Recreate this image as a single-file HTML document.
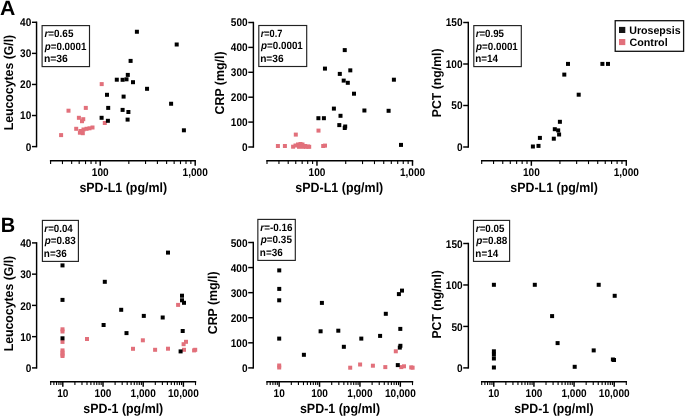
<!DOCTYPE html>
<html><head><meta charset="utf-8"><style>
html,body{margin:0;padding:0;background:#fff;width:685px;height:416px;overflow:hidden}
svg{display:block;will-change:transform}
</style></head><body>
<svg width="685" height="416" viewBox="0 0 685 416" font-family="&apos;Liberation Sans&apos;, sans-serif" font-weight="bold" fill="#000" style="text-rendering:geometricPrecision">
<rect width="685" height="416" fill="#fff"/>
<text x="0.12" y="15" font-size="20.8" textLength="15.34" lengthAdjust="spacingAndGlyphs">A</text>
<text x="0.66" y="231.7" font-size="20.8" textLength="14.45" lengthAdjust="spacingAndGlyphs">B</text>
<line x1="36.55" y1="21.57" x2="36.55" y2="147.32" stroke="#000" stroke-width="1.45"/>
<line x1="31.95" y1="146.6" x2="36.55" y2="146.6" stroke="#000" stroke-width="1.45"/>
<text transform="translate(31.3 150.5) scale(0.9 1)" font-size="11.2" text-anchor="end">0</text>
<line x1="31.95" y1="115.52" x2="36.55" y2="115.52" stroke="#000" stroke-width="1.45"/>
<text transform="translate(31.3 119.42) scale(0.9 1)" font-size="11.2" text-anchor="end">10</text>
<line x1="31.95" y1="84.45" x2="36.55" y2="84.45" stroke="#000" stroke-width="1.45"/>
<text transform="translate(31.3 88.35) scale(0.9 1)" font-size="11.2" text-anchor="end">20</text>
<line x1="31.95" y1="53.38" x2="36.55" y2="53.38" stroke="#000" stroke-width="1.45"/>
<text transform="translate(31.3 57.27) scale(0.9 1)" font-size="11.2" text-anchor="end">30</text>
<line x1="31.95" y1="22.3" x2="36.55" y2="22.3" stroke="#000" stroke-width="1.45"/>
<text transform="translate(31.3 26.2) scale(0.9 1)" font-size="11.2" text-anchor="end">40</text>
<line x1="253.4" y1="21.77" x2="253.4" y2="147.72" stroke="#000" stroke-width="1.45"/>
<line x1="248.3" y1="147" x2="253.4" y2="147" stroke="#000" stroke-width="1.45"/>
<text transform="translate(247.65 150.9) scale(0.9 1)" font-size="11.2" text-anchor="end">0</text>
<line x1="248.3" y1="122.1" x2="253.4" y2="122.1" stroke="#000" stroke-width="1.45"/>
<text transform="translate(247.65 126) scale(0.9 1)" font-size="11.2" text-anchor="end">100</text>
<line x1="248.3" y1="97.2" x2="253.4" y2="97.2" stroke="#000" stroke-width="1.45"/>
<text transform="translate(247.65 101.1) scale(0.9 1)" font-size="11.2" text-anchor="end">200</text>
<line x1="248.3" y1="72.3" x2="253.4" y2="72.3" stroke="#000" stroke-width="1.45"/>
<text transform="translate(247.65 76.2) scale(0.9 1)" font-size="11.2" text-anchor="end">300</text>
<line x1="248.3" y1="47.4" x2="253.4" y2="47.4" stroke="#000" stroke-width="1.45"/>
<text transform="translate(247.65 51.3) scale(0.9 1)" font-size="11.2" text-anchor="end">400</text>
<line x1="248.3" y1="22.5" x2="253.4" y2="22.5" stroke="#000" stroke-width="1.45"/>
<text transform="translate(247.65 26.4) scale(0.9 1)" font-size="11.2" text-anchor="end">500</text>
<line x1="468.3" y1="21.77" x2="468.3" y2="147.72" stroke="#000" stroke-width="1.45"/>
<line x1="463.2" y1="147" x2="468.3" y2="147" stroke="#000" stroke-width="1.45"/>
<text transform="translate(462.55 150.9) scale(0.9 1)" font-size="11.2" text-anchor="end">0</text>
<line x1="463.2" y1="105.5" x2="468.3" y2="105.5" stroke="#000" stroke-width="1.45"/>
<text transform="translate(462.55 109.4) scale(0.9 1)" font-size="11.2" text-anchor="end">50</text>
<line x1="463.2" y1="64" x2="468.3" y2="64" stroke="#000" stroke-width="1.45"/>
<text transform="translate(462.55 67.9) scale(0.9 1)" font-size="11.2" text-anchor="end">100</text>
<line x1="463.2" y1="22.5" x2="468.3" y2="22.5" stroke="#000" stroke-width="1.45"/>
<text transform="translate(462.55 26.4) scale(0.9 1)" font-size="11.2" text-anchor="end">150</text>
<line x1="49.88" y1="160.8" x2="195.92" y2="160.8" stroke="#000" stroke-width="1.45"/>
<line x1="50.6" y1="160.8" x2="50.6" y2="164.1" stroke="#000" stroke-width="1.1"/>
<line x1="62.46" y1="160.8" x2="62.46" y2="164.1" stroke="#000" stroke-width="1.1"/>
<line x1="71.66" y1="160.8" x2="71.66" y2="164.1" stroke="#000" stroke-width="1.1"/>
<line x1="79.18" y1="160.8" x2="79.18" y2="164.1" stroke="#000" stroke-width="1.1"/>
<line x1="85.54" y1="160.8" x2="85.54" y2="164.1" stroke="#000" stroke-width="1.1"/>
<line x1="91.05" y1="160.8" x2="91.05" y2="164.1" stroke="#000" stroke-width="1.1"/>
<line x1="95.9" y1="160.8" x2="95.9" y2="164.1" stroke="#000" stroke-width="1.1"/>
<line x1="100.25" y1="160.8" x2="100.25" y2="165.8" stroke="#000" stroke-width="1.45"/>
<line x1="128.83" y1="160.8" x2="128.83" y2="164.1" stroke="#000" stroke-width="1.1"/>
<line x1="145.55" y1="160.8" x2="145.55" y2="164.1" stroke="#000" stroke-width="1.1"/>
<line x1="157.41" y1="160.8" x2="157.41" y2="164.1" stroke="#000" stroke-width="1.1"/>
<line x1="166.62" y1="160.8" x2="166.62" y2="164.1" stroke="#000" stroke-width="1.1"/>
<line x1="174.14" y1="160.8" x2="174.14" y2="164.1" stroke="#000" stroke-width="1.1"/>
<line x1="180.49" y1="160.8" x2="180.49" y2="164.1" stroke="#000" stroke-width="1.1"/>
<line x1="186" y1="160.8" x2="186" y2="164.1" stroke="#000" stroke-width="1.1"/>
<line x1="190.86" y1="160.8" x2="190.86" y2="164.1" stroke="#000" stroke-width="1.1"/>
<line x1="195.2" y1="160.8" x2="195.2" y2="165.8" stroke="#000" stroke-width="1.45"/>
<text transform="translate(100.25 175.8) scale(0.9 1)" font-size="11.2" text-anchor="middle">100</text>
<text transform="translate(195.2 175.8) scale(0.9 1)" font-size="11.2" text-anchor="middle">1,000</text>
<line x1="266.27" y1="160.8" x2="413.23" y2="160.8" stroke="#000" stroke-width="1.45"/>
<line x1="267" y1="160.8" x2="267" y2="164.1" stroke="#000" stroke-width="1.1"/>
<line x1="278.94" y1="160.8" x2="278.94" y2="164.1" stroke="#000" stroke-width="1.1"/>
<line x1="288.2" y1="160.8" x2="288.2" y2="164.1" stroke="#000" stroke-width="1.1"/>
<line x1="295.76" y1="160.8" x2="295.76" y2="164.1" stroke="#000" stroke-width="1.1"/>
<line x1="302.16" y1="160.8" x2="302.16" y2="164.1" stroke="#000" stroke-width="1.1"/>
<line x1="307.7" y1="160.8" x2="307.7" y2="164.1" stroke="#000" stroke-width="1.1"/>
<line x1="312.59" y1="160.8" x2="312.59" y2="164.1" stroke="#000" stroke-width="1.1"/>
<line x1="316.96" y1="160.8" x2="316.96" y2="165.8" stroke="#000" stroke-width="1.45"/>
<line x1="345.72" y1="160.8" x2="345.72" y2="164.1" stroke="#000" stroke-width="1.1"/>
<line x1="362.54" y1="160.8" x2="362.54" y2="164.1" stroke="#000" stroke-width="1.1"/>
<line x1="374.48" y1="160.8" x2="374.48" y2="164.1" stroke="#000" stroke-width="1.1"/>
<line x1="383.74" y1="160.8" x2="383.74" y2="164.1" stroke="#000" stroke-width="1.1"/>
<line x1="391.3" y1="160.8" x2="391.3" y2="164.1" stroke="#000" stroke-width="1.1"/>
<line x1="397.7" y1="160.8" x2="397.7" y2="164.1" stroke="#000" stroke-width="1.1"/>
<line x1="403.24" y1="160.8" x2="403.24" y2="164.1" stroke="#000" stroke-width="1.1"/>
<line x1="408.13" y1="160.8" x2="408.13" y2="164.1" stroke="#000" stroke-width="1.1"/>
<line x1="412.5" y1="160.8" x2="412.5" y2="165.8" stroke="#000" stroke-width="1.45"/>
<text transform="translate(316.96 175.8) scale(0.9 1)" font-size="11.2" text-anchor="middle">100</text>
<text transform="translate(412.5 175.8) scale(0.9 1)" font-size="11.2" text-anchor="middle">1,000</text>
<line x1="480.97" y1="160.8" x2="627.02" y2="160.8" stroke="#000" stroke-width="1.45"/>
<line x1="481.7" y1="160.8" x2="481.7" y2="164.1" stroke="#000" stroke-width="1.1"/>
<line x1="493.56" y1="160.8" x2="493.56" y2="164.1" stroke="#000" stroke-width="1.1"/>
<line x1="502.76" y1="160.8" x2="502.76" y2="164.1" stroke="#000" stroke-width="1.1"/>
<line x1="510.28" y1="160.8" x2="510.28" y2="164.1" stroke="#000" stroke-width="1.1"/>
<line x1="516.64" y1="160.8" x2="516.64" y2="164.1" stroke="#000" stroke-width="1.1"/>
<line x1="522.15" y1="160.8" x2="522.15" y2="164.1" stroke="#000" stroke-width="1.1"/>
<line x1="527" y1="160.8" x2="527" y2="164.1" stroke="#000" stroke-width="1.1"/>
<line x1="531.35" y1="160.8" x2="531.35" y2="165.8" stroke="#000" stroke-width="1.45"/>
<line x1="559.93" y1="160.8" x2="559.93" y2="164.1" stroke="#000" stroke-width="1.1"/>
<line x1="576.65" y1="160.8" x2="576.65" y2="164.1" stroke="#000" stroke-width="1.1"/>
<line x1="588.51" y1="160.8" x2="588.51" y2="164.1" stroke="#000" stroke-width="1.1"/>
<line x1="597.72" y1="160.8" x2="597.72" y2="164.1" stroke="#000" stroke-width="1.1"/>
<line x1="605.24" y1="160.8" x2="605.24" y2="164.1" stroke="#000" stroke-width="1.1"/>
<line x1="611.59" y1="160.8" x2="611.59" y2="164.1" stroke="#000" stroke-width="1.1"/>
<line x1="617.1" y1="160.8" x2="617.1" y2="164.1" stroke="#000" stroke-width="1.1"/>
<line x1="621.96" y1="160.8" x2="621.96" y2="164.1" stroke="#000" stroke-width="1.1"/>
<line x1="626.3" y1="160.8" x2="626.3" y2="165.8" stroke="#000" stroke-width="1.45"/>
<text transform="translate(531.35 175.8) scale(0.9 1)" font-size="11.2" text-anchor="middle">100</text>
<text transform="translate(626.3 175.8) scale(0.9 1)" font-size="11.2" text-anchor="middle">1,000</text>
<text x="79.41" y="191.55" font-size="13.3" textLength="87.71" lengthAdjust="spacingAndGlyphs">sPD-L1 (pg/ml)</text>
<text x="295.36" y="191.55" font-size="13.3" textLength="87.91" lengthAdjust="spacingAndGlyphs">sPD-L1 (pg/ml)</text>
<text x="510.36" y="191.55" font-size="13.3" textLength="87.45" lengthAdjust="spacingAndGlyphs">sPD-L1 (pg/ml)</text>
<text x="13.3" y="130.32" font-size="12.9" textLength="95.53" lengthAdjust="spacingAndGlyphs" transform="rotate(-90 13.3 130.32)">Leucocytes (G/l)</text>
<text x="223.7" y="114.51" font-size="12.9" textLength="63.12" lengthAdjust="spacingAndGlyphs" transform="rotate(-90 223.7 114.51)">CRP (mg/l)</text>
<text x="440.9" y="117.12" font-size="12.9" textLength="68.63" lengthAdjust="spacingAndGlyphs" transform="rotate(-90 440.9 117.12)">PCT (ng/ml)</text>
<rect x="42.1" y="25.6" width="47.4" height="41" fill="none" stroke="#222" stroke-width="1.15"/>
<text x="44.43" y="37.3" font-size="10.5" textLength="29" lengthAdjust="spacingAndGlyphs"><tspan font-style="italic">r</tspan>=0.65</text>
<text x="44.81" y="49.55" font-size="10.5" textLength="41.51" lengthAdjust="spacingAndGlyphs"><tspan font-style="italic">p</tspan>=0.0001</text>
<text x="43.91" y="62.05" font-size="10.5" textLength="24.01" lengthAdjust="spacingAndGlyphs">n=36</text>
<rect x="258.8" y="25.5" width="47.9" height="41" fill="none" stroke="#222" stroke-width="1.15"/>
<text x="260.64" y="37.2" font-size="10.5" textLength="21.81" lengthAdjust="spacingAndGlyphs"><tspan font-style="italic">r</tspan>=0.7</text>
<text x="261.02" y="49.45" font-size="10.5" textLength="41.81" lengthAdjust="spacingAndGlyphs"><tspan font-style="italic">p</tspan>=0.0001</text>
<text x="260.13" y="61.95" font-size="10.5" textLength="23.49" lengthAdjust="spacingAndGlyphs">n=36</text>
<rect x="473.8" y="25.6" width="47.5" height="41" fill="none" stroke="#222" stroke-width="1.15"/>
<text x="475.63" y="37.3" font-size="10.5" textLength="28.39" lengthAdjust="spacingAndGlyphs"><tspan font-style="italic">r</tspan>=0.95</text>
<text x="476.02" y="49.55" font-size="10.5" textLength="41.81" lengthAdjust="spacingAndGlyphs"><tspan font-style="italic">p</tspan>=0.0001</text>
<text x="475.15" y="62.05" font-size="10.5" textLength="22.86" lengthAdjust="spacingAndGlyphs">n=14</text>
<rect x="615.2" y="20.7" width="68.4" height="30.6" fill="none" stroke="#111" stroke-width="1.3"/>
<rect x="619.0" y="26.9" width="6.3" height="6.1" fill="#151515"/>
<rect x="619.0" y="39.0" width="6.3" height="6.1" fill="#e2707b"/>
<text x="629.26" y="33.5" font-size="10.9" textLength="51.37" lengthAdjust="spacingAndGlyphs">Urosepsis</text>
<text x="629.46" y="45.5" font-size="10.9" textLength="38.2" lengthAdjust="spacingAndGlyphs">Control</text>
<line x1="36.6" y1="242.18" x2="36.6" y2="368.62" stroke="#000" stroke-width="1.45"/>
<line x1="32" y1="367.9" x2="36.6" y2="367.9" stroke="#000" stroke-width="1.45"/>
<text transform="translate(31.35 372.1) scale(0.9 1)" font-size="11.2" text-anchor="end">0</text>
<line x1="32" y1="336.65" x2="36.6" y2="336.65" stroke="#000" stroke-width="1.45"/>
<text transform="translate(31.35 340.85) scale(0.9 1)" font-size="11.2" text-anchor="end">10</text>
<line x1="32" y1="305.4" x2="36.6" y2="305.4" stroke="#000" stroke-width="1.45"/>
<text transform="translate(31.35 309.6) scale(0.9 1)" font-size="11.2" text-anchor="end">20</text>
<line x1="32" y1="274.15" x2="36.6" y2="274.15" stroke="#000" stroke-width="1.45"/>
<text transform="translate(31.35 278.35) scale(0.9 1)" font-size="11.2" text-anchor="end">30</text>
<line x1="32" y1="242.9" x2="36.6" y2="242.9" stroke="#000" stroke-width="1.45"/>
<text transform="translate(31.35 247.1) scale(0.9 1)" font-size="11.2" text-anchor="end">40</text>
<line x1="253.3" y1="241.78" x2="253.3" y2="368.62" stroke="#000" stroke-width="1.45"/>
<line x1="248.2" y1="367.9" x2="253.3" y2="367.9" stroke="#000" stroke-width="1.45"/>
<text transform="translate(247.55 372.1) scale(0.9 1)" font-size="11.2" text-anchor="end">0</text>
<line x1="248.2" y1="342.82" x2="253.3" y2="342.82" stroke="#000" stroke-width="1.45"/>
<text transform="translate(247.55 347.02) scale(0.9 1)" font-size="11.2" text-anchor="end">100</text>
<line x1="248.2" y1="317.74" x2="253.3" y2="317.74" stroke="#000" stroke-width="1.45"/>
<text transform="translate(247.55 321.94) scale(0.9 1)" font-size="11.2" text-anchor="end">200</text>
<line x1="248.2" y1="292.66" x2="253.3" y2="292.66" stroke="#000" stroke-width="1.45"/>
<text transform="translate(247.55 296.86) scale(0.9 1)" font-size="11.2" text-anchor="end">300</text>
<line x1="248.2" y1="267.58" x2="253.3" y2="267.58" stroke="#000" stroke-width="1.45"/>
<text transform="translate(247.55 271.78) scale(0.9 1)" font-size="11.2" text-anchor="end">400</text>
<line x1="248.2" y1="242.5" x2="253.3" y2="242.5" stroke="#000" stroke-width="1.45"/>
<text transform="translate(247.55 246.7) scale(0.9 1)" font-size="11.2" text-anchor="end">500</text>
<line x1="468.35" y1="242.78" x2="468.35" y2="368.62" stroke="#000" stroke-width="1.45"/>
<line x1="463.25" y1="367.9" x2="468.35" y2="367.9" stroke="#000" stroke-width="1.45"/>
<text transform="translate(462.6 372.1) scale(0.9 1)" font-size="11.2" text-anchor="end">0</text>
<line x1="463.25" y1="326.43" x2="468.35" y2="326.43" stroke="#000" stroke-width="1.45"/>
<text transform="translate(462.6 330.63) scale(0.9 1)" font-size="11.2" text-anchor="end">50</text>
<line x1="463.25" y1="284.97" x2="468.35" y2="284.97" stroke="#000" stroke-width="1.45"/>
<text transform="translate(462.6 289.17) scale(0.9 1)" font-size="11.2" text-anchor="end">100</text>
<line x1="463.25" y1="243.5" x2="468.35" y2="243.5" stroke="#000" stroke-width="1.45"/>
<text transform="translate(462.6 247.7) scale(0.9 1)" font-size="11.2" text-anchor="end">150</text>
<line x1="49.98" y1="381.8" x2="196.22" y2="381.8" stroke="#000" stroke-width="1.45"/>
<line x1="50.7" y1="381.8" x2="50.7" y2="385.1" stroke="#000" stroke-width="1.1"/>
<line x1="53.88" y1="381.8" x2="53.88" y2="385.1" stroke="#000" stroke-width="1.1"/>
<line x1="56.57" y1="381.8" x2="56.57" y2="385.1" stroke="#000" stroke-width="1.1"/>
<line x1="58.91" y1="381.8" x2="58.91" y2="385.1" stroke="#000" stroke-width="1.1"/>
<line x1="60.96" y1="381.8" x2="60.96" y2="385.1" stroke="#000" stroke-width="1.1"/>
<line x1="62.8" y1="381.8" x2="62.8" y2="386.8" stroke="#000" stroke-width="1.45"/>
<line x1="74.9" y1="381.8" x2="74.9" y2="385.1" stroke="#000" stroke-width="1.1"/>
<line x1="81.98" y1="381.8" x2="81.98" y2="385.1" stroke="#000" stroke-width="1.1"/>
<line x1="87" y1="381.8" x2="87" y2="385.1" stroke="#000" stroke-width="1.1"/>
<line x1="90.9" y1="381.8" x2="90.9" y2="385.1" stroke="#000" stroke-width="1.1"/>
<line x1="94.08" y1="381.8" x2="94.08" y2="385.1" stroke="#000" stroke-width="1.1"/>
<line x1="96.77" y1="381.8" x2="96.77" y2="385.1" stroke="#000" stroke-width="1.1"/>
<line x1="99.1" y1="381.8" x2="99.1" y2="385.1" stroke="#000" stroke-width="1.1"/>
<line x1="101.16" y1="381.8" x2="101.16" y2="385.1" stroke="#000" stroke-width="1.1"/>
<line x1="103" y1="381.8" x2="103" y2="386.8" stroke="#000" stroke-width="1.45"/>
<line x1="115.1" y1="381.8" x2="115.1" y2="385.1" stroke="#000" stroke-width="1.1"/>
<line x1="122.18" y1="381.8" x2="122.18" y2="385.1" stroke="#000" stroke-width="1.1"/>
<line x1="127.2" y1="381.8" x2="127.2" y2="385.1" stroke="#000" stroke-width="1.1"/>
<line x1="131.1" y1="381.8" x2="131.1" y2="385.1" stroke="#000" stroke-width="1.1"/>
<line x1="134.28" y1="381.8" x2="134.28" y2="385.1" stroke="#000" stroke-width="1.1"/>
<line x1="136.97" y1="381.8" x2="136.97" y2="385.1" stroke="#000" stroke-width="1.1"/>
<line x1="139.3" y1="381.8" x2="139.3" y2="385.1" stroke="#000" stroke-width="1.1"/>
<line x1="141.36" y1="381.8" x2="141.36" y2="385.1" stroke="#000" stroke-width="1.1"/>
<line x1="143.2" y1="381.8" x2="143.2" y2="386.8" stroke="#000" stroke-width="1.45"/>
<line x1="155.3" y1="381.8" x2="155.3" y2="385.1" stroke="#000" stroke-width="1.1"/>
<line x1="162.38" y1="381.8" x2="162.38" y2="385.1" stroke="#000" stroke-width="1.1"/>
<line x1="167.4" y1="381.8" x2="167.4" y2="385.1" stroke="#000" stroke-width="1.1"/>
<line x1="171.3" y1="381.8" x2="171.3" y2="385.1" stroke="#000" stroke-width="1.1"/>
<line x1="174.48" y1="381.8" x2="174.48" y2="385.1" stroke="#000" stroke-width="1.1"/>
<line x1="177.17" y1="381.8" x2="177.17" y2="385.1" stroke="#000" stroke-width="1.1"/>
<line x1="179.5" y1="381.8" x2="179.5" y2="385.1" stroke="#000" stroke-width="1.1"/>
<line x1="181.56" y1="381.8" x2="181.56" y2="385.1" stroke="#000" stroke-width="1.1"/>
<line x1="183.4" y1="381.8" x2="183.4" y2="386.8" stroke="#000" stroke-width="1.45"/>
<line x1="195.5" y1="381.8" x2="195.5" y2="385.1" stroke="#000" stroke-width="1.1"/>
<text transform="translate(62.8 396.8) scale(0.9 1)" font-size="11.2" text-anchor="middle">10</text>
<text transform="translate(103 396.8) scale(0.9 1)" font-size="11.2" text-anchor="middle">100</text>
<text transform="translate(143.2 396.8) scale(0.9 1)" font-size="11.2" text-anchor="middle">1,000</text>
<text transform="translate(183.4 396.8) scale(0.9 1)" font-size="11.2" text-anchor="middle">10,000</text>
<line x1="266.27" y1="381.8" x2="413.23" y2="381.8" stroke="#000" stroke-width="1.45"/>
<line x1="267" y1="381.8" x2="267" y2="385.1" stroke="#000" stroke-width="1.1"/>
<line x1="270.2" y1="381.8" x2="270.2" y2="385.1" stroke="#000" stroke-width="1.1"/>
<line x1="272.9" y1="381.8" x2="272.9" y2="385.1" stroke="#000" stroke-width="1.1"/>
<line x1="275.25" y1="381.8" x2="275.25" y2="385.1" stroke="#000" stroke-width="1.1"/>
<line x1="277.31" y1="381.8" x2="277.31" y2="385.1" stroke="#000" stroke-width="1.1"/>
<line x1="279.16" y1="381.8" x2="279.16" y2="386.8" stroke="#000" stroke-width="1.45"/>
<line x1="291.32" y1="381.8" x2="291.32" y2="385.1" stroke="#000" stroke-width="1.1"/>
<line x1="298.43" y1="381.8" x2="298.43" y2="385.1" stroke="#000" stroke-width="1.1"/>
<line x1="303.48" y1="381.8" x2="303.48" y2="385.1" stroke="#000" stroke-width="1.1"/>
<line x1="307.39" y1="381.8" x2="307.39" y2="385.1" stroke="#000" stroke-width="1.1"/>
<line x1="310.59" y1="381.8" x2="310.59" y2="385.1" stroke="#000" stroke-width="1.1"/>
<line x1="313.3" y1="381.8" x2="313.3" y2="385.1" stroke="#000" stroke-width="1.1"/>
<line x1="315.64" y1="381.8" x2="315.64" y2="385.1" stroke="#000" stroke-width="1.1"/>
<line x1="317.7" y1="381.8" x2="317.7" y2="385.1" stroke="#000" stroke-width="1.1"/>
<line x1="319.55" y1="381.8" x2="319.55" y2="386.8" stroke="#000" stroke-width="1.45"/>
<line x1="331.71" y1="381.8" x2="331.71" y2="385.1" stroke="#000" stroke-width="1.1"/>
<line x1="338.83" y1="381.8" x2="338.83" y2="385.1" stroke="#000" stroke-width="1.1"/>
<line x1="343.87" y1="381.8" x2="343.87" y2="385.1" stroke="#000" stroke-width="1.1"/>
<line x1="347.79" y1="381.8" x2="347.79" y2="385.1" stroke="#000" stroke-width="1.1"/>
<line x1="350.99" y1="381.8" x2="350.99" y2="385.1" stroke="#000" stroke-width="1.1"/>
<line x1="353.69" y1="381.8" x2="353.69" y2="385.1" stroke="#000" stroke-width="1.1"/>
<line x1="356.03" y1="381.8" x2="356.03" y2="385.1" stroke="#000" stroke-width="1.1"/>
<line x1="358.1" y1="381.8" x2="358.1" y2="385.1" stroke="#000" stroke-width="1.1"/>
<line x1="359.95" y1="381.8" x2="359.95" y2="386.8" stroke="#000" stroke-width="1.45"/>
<line x1="372.11" y1="381.8" x2="372.11" y2="385.1" stroke="#000" stroke-width="1.1"/>
<line x1="379.22" y1="381.8" x2="379.22" y2="385.1" stroke="#000" stroke-width="1.1"/>
<line x1="384.27" y1="381.8" x2="384.27" y2="385.1" stroke="#000" stroke-width="1.1"/>
<line x1="388.18" y1="381.8" x2="388.18" y2="385.1" stroke="#000" stroke-width="1.1"/>
<line x1="391.38" y1="381.8" x2="391.38" y2="385.1" stroke="#000" stroke-width="1.1"/>
<line x1="394.08" y1="381.8" x2="394.08" y2="385.1" stroke="#000" stroke-width="1.1"/>
<line x1="396.43" y1="381.8" x2="396.43" y2="385.1" stroke="#000" stroke-width="1.1"/>
<line x1="398.49" y1="381.8" x2="398.49" y2="385.1" stroke="#000" stroke-width="1.1"/>
<line x1="400.34" y1="381.8" x2="400.34" y2="386.8" stroke="#000" stroke-width="1.45"/>
<line x1="412.5" y1="381.8" x2="412.5" y2="385.1" stroke="#000" stroke-width="1.1"/>
<text transform="translate(279.16 396.8) scale(0.9 1)" font-size="11.2" text-anchor="middle">10</text>
<text transform="translate(319.55 396.8) scale(0.9 1)" font-size="11.2" text-anchor="middle">100</text>
<text transform="translate(359.95 396.8) scale(0.9 1)" font-size="11.2" text-anchor="middle">1,000</text>
<text transform="translate(400.34 396.8) scale(0.9 1)" font-size="11.2" text-anchor="middle">10,000</text>
<line x1="480.97" y1="381.8" x2="627.02" y2="381.8" stroke="#000" stroke-width="1.45"/>
<line x1="481.7" y1="381.8" x2="481.7" y2="385.1" stroke="#000" stroke-width="1.1"/>
<line x1="484.88" y1="381.8" x2="484.88" y2="385.1" stroke="#000" stroke-width="1.1"/>
<line x1="487.57" y1="381.8" x2="487.57" y2="385.1" stroke="#000" stroke-width="1.1"/>
<line x1="489.89" y1="381.8" x2="489.89" y2="385.1" stroke="#000" stroke-width="1.1"/>
<line x1="491.95" y1="381.8" x2="491.95" y2="385.1" stroke="#000" stroke-width="1.1"/>
<line x1="493.78" y1="381.8" x2="493.78" y2="386.8" stroke="#000" stroke-width="1.45"/>
<line x1="505.87" y1="381.8" x2="505.87" y2="385.1" stroke="#000" stroke-width="1.1"/>
<line x1="512.94" y1="381.8" x2="512.94" y2="385.1" stroke="#000" stroke-width="1.1"/>
<line x1="517.95" y1="381.8" x2="517.95" y2="385.1" stroke="#000" stroke-width="1.1"/>
<line x1="521.84" y1="381.8" x2="521.84" y2="385.1" stroke="#000" stroke-width="1.1"/>
<line x1="525.02" y1="381.8" x2="525.02" y2="385.1" stroke="#000" stroke-width="1.1"/>
<line x1="527.71" y1="381.8" x2="527.71" y2="385.1" stroke="#000" stroke-width="1.1"/>
<line x1="530.04" y1="381.8" x2="530.04" y2="385.1" stroke="#000" stroke-width="1.1"/>
<line x1="532.09" y1="381.8" x2="532.09" y2="385.1" stroke="#000" stroke-width="1.1"/>
<line x1="533.93" y1="381.8" x2="533.93" y2="386.8" stroke="#000" stroke-width="1.45"/>
<line x1="546.01" y1="381.8" x2="546.01" y2="385.1" stroke="#000" stroke-width="1.1"/>
<line x1="553.08" y1="381.8" x2="553.08" y2="385.1" stroke="#000" stroke-width="1.1"/>
<line x1="558.1" y1="381.8" x2="558.1" y2="385.1" stroke="#000" stroke-width="1.1"/>
<line x1="561.99" y1="381.8" x2="561.99" y2="385.1" stroke="#000" stroke-width="1.1"/>
<line x1="565.17" y1="381.8" x2="565.17" y2="385.1" stroke="#000" stroke-width="1.1"/>
<line x1="567.85" y1="381.8" x2="567.85" y2="385.1" stroke="#000" stroke-width="1.1"/>
<line x1="570.18" y1="381.8" x2="570.18" y2="385.1" stroke="#000" stroke-width="1.1"/>
<line x1="572.23" y1="381.8" x2="572.23" y2="385.1" stroke="#000" stroke-width="1.1"/>
<line x1="574.07" y1="381.8" x2="574.07" y2="386.8" stroke="#000" stroke-width="1.45"/>
<line x1="586.16" y1="381.8" x2="586.16" y2="385.1" stroke="#000" stroke-width="1.1"/>
<line x1="593.23" y1="381.8" x2="593.23" y2="385.1" stroke="#000" stroke-width="1.1"/>
<line x1="598.24" y1="381.8" x2="598.24" y2="385.1" stroke="#000" stroke-width="1.1"/>
<line x1="602.13" y1="381.8" x2="602.13" y2="385.1" stroke="#000" stroke-width="1.1"/>
<line x1="605.31" y1="381.8" x2="605.31" y2="385.1" stroke="#000" stroke-width="1.1"/>
<line x1="608" y1="381.8" x2="608" y2="385.1" stroke="#000" stroke-width="1.1"/>
<line x1="610.33" y1="381.8" x2="610.33" y2="385.1" stroke="#000" stroke-width="1.1"/>
<line x1="612.38" y1="381.8" x2="612.38" y2="385.1" stroke="#000" stroke-width="1.1"/>
<line x1="614.22" y1="381.8" x2="614.22" y2="386.8" stroke="#000" stroke-width="1.45"/>
<line x1="626.3" y1="381.8" x2="626.3" y2="385.1" stroke="#000" stroke-width="1.1"/>
<text transform="translate(493.78 396.8) scale(0.9 1)" font-size="11.2" text-anchor="middle">10</text>
<text transform="translate(533.93 396.8) scale(0.9 1)" font-size="11.2" text-anchor="middle">100</text>
<text transform="translate(574.07 396.8) scale(0.9 1)" font-size="11.2" text-anchor="middle">1,000</text>
<text transform="translate(614.22 396.8) scale(0.9 1)" font-size="11.2" text-anchor="middle">10,000</text>
<text x="83.26" y="412.65" font-size="13.3" textLength="80" lengthAdjust="spacingAndGlyphs">sPD-1 (pg/ml)</text>
<text x="299.96" y="412.65" font-size="13.3" textLength="80.16" lengthAdjust="spacingAndGlyphs">sPD-1 (pg/ml)</text>
<text x="514.27" y="412.65" font-size="13.3" textLength="79.45" lengthAdjust="spacingAndGlyphs">sPD-1 (pg/ml)</text>
<text x="13.3" y="351.32" font-size="12.9" textLength="95.53" lengthAdjust="spacingAndGlyphs" transform="rotate(-90 13.3 351.32)">Leucocytes (G/l)</text>
<text x="217.1" y="334.2" font-size="12.9" textLength="62.71" lengthAdjust="spacingAndGlyphs" transform="rotate(-90 217.1 334.2)">CRP (mg/l)</text>
<text x="440.9" y="338.52" font-size="12.9" textLength="68.42" lengthAdjust="spacingAndGlyphs" transform="rotate(-90 440.9 338.52)">PCT (ng/ml)</text>
<rect x="42.4" y="220.4" width="36" height="41" fill="none" stroke="#222" stroke-width="1.15"/>
<text x="44.33" y="232.1" font-size="10.5" textLength="28.47" lengthAdjust="spacingAndGlyphs"><tspan font-style="italic">r</tspan>=0.04</text>
<text x="44.72" y="244.35" font-size="10.5" textLength="30.99" lengthAdjust="spacingAndGlyphs"><tspan font-style="italic">p</tspan>=0.83</text>
<text x="43.85" y="256.85" font-size="10.5" textLength="22.86" lengthAdjust="spacingAndGlyphs">n=36</text>
<rect x="257.85" y="219.4" width="37.45" height="41" fill="none" stroke="#222" stroke-width="1.15"/>
<text x="260.33" y="231.1" font-size="10.5" textLength="32.18" lengthAdjust="spacingAndGlyphs"><tspan font-style="italic">r</tspan>=-0.16</text>
<text x="260.72" y="243.35" font-size="10.5" textLength="31.21" lengthAdjust="spacingAndGlyphs"><tspan font-style="italic">p</tspan>=0.35</text>
<text x="259.85" y="255.85" font-size="10.5" textLength="22.86" lengthAdjust="spacingAndGlyphs">n=36</text>
<rect x="473.5" y="220.4" width="36.1" height="41" fill="none" stroke="#222" stroke-width="1.15"/>
<text x="475.83" y="232.1" font-size="10.5" textLength="28.59" lengthAdjust="spacingAndGlyphs"><tspan font-style="italic">r</tspan>=0.05</text>
<text x="476.22" y="244.35" font-size="10.5" textLength="31.14" lengthAdjust="spacingAndGlyphs"><tspan font-style="italic">p</tspan>=0.88</text>
<text x="475.35" y="256.85" font-size="10.5" textLength="22.86" lengthAdjust="spacingAndGlyphs">n=14</text>
<rect x="99.7" y="82.1" width="4.0" height="4.0" fill="#e2707b"/>
<rect x="66.5" y="108.7" width="4.0" height="4.0" fill="#e2707b"/>
<rect x="83.8" y="105.9" width="4.0" height="4.0" fill="#e2707b"/>
<rect x="76.9" y="115.8" width="4.0" height="4.0" fill="#e2707b"/>
<rect x="81.25" y="117.2" width="4.0" height="4.0" fill="#e2707b"/>
<rect x="80" y="119.2" width="4.0" height="4.0" fill="#e2707b"/>
<rect x="102.8" y="121" width="4.0" height="4.0" fill="#e2707b"/>
<rect x="59.1" y="133.1" width="4.0" height="4.0" fill="#e2707b"/>
<rect x="74.2" y="126.8" width="4.0" height="4.0" fill="#e2707b"/>
<rect x="77.9" y="130.7" width="4.0" height="4.0" fill="#e2707b"/>
<rect x="80.8" y="131.2" width="4.0" height="4.0" fill="#e2707b"/>
<rect x="78.5" y="129" width="4.0" height="4.0" fill="#e2707b"/>
<rect x="81.5" y="127.5" width="4.0" height="4.0" fill="#e2707b"/>
<rect x="84.5" y="126.8" width="4.0" height="4.0" fill="#e2707b"/>
<rect x="87.5" y="126.3" width="4.0" height="4.0" fill="#e2707b"/>
<rect x="90.5" y="125.5" width="4.0" height="4.0" fill="#e2707b"/>
<rect x="80" y="129.5" width="4.0" height="4.0" fill="#e2707b"/>
<rect x="316.5" y="128.6" width="4.0" height="4.0" fill="#e2707b"/>
<rect x="321.2" y="144" width="4.0" height="4.0" fill="#e2707b"/>
<rect x="323" y="143.6" width="4.0" height="4.0" fill="#e2707b"/>
<rect x="275.9" y="144" width="4.0" height="4.0" fill="#e2707b"/>
<rect x="282.9" y="144" width="4.0" height="4.0" fill="#e2707b"/>
<rect x="291.1" y="144.7" width="4.0" height="4.0" fill="#e2707b"/>
<rect x="293.8" y="132.6" width="4.0" height="4.0" fill="#e2707b"/>
<rect x="293.5" y="143.5" width="4.0" height="4.0" fill="#e2707b"/>
<rect x="296" y="142.5" width="4.0" height="4.0" fill="#e2707b"/>
<rect x="298.5" y="142" width="4.0" height="4.0" fill="#e2707b"/>
<rect x="300.5" y="142.5" width="4.0" height="4.0" fill="#e2707b"/>
<rect x="297" y="144.8" width="4.0" height="4.0" fill="#e2707b"/>
<rect x="301" y="144.8" width="4.0" height="4.0" fill="#e2707b"/>
<rect x="304" y="144.8" width="4.0" height="4.0" fill="#e2707b"/>
<rect x="307.2" y="144.8" width="4.0" height="4.0" fill="#e2707b"/>
<rect x="303" y="144" width="4.0" height="4.0" fill="#e2707b"/>
<rect x="306" y="144.5" width="4.0" height="4.0" fill="#e2707b"/>
<rect x="60.5" y="327.3" width="4.0" height="4.0" fill="#e2707b"/>
<rect x="60.5" y="329.5" width="4.0" height="4.0" fill="#e2707b"/>
<rect x="60.5" y="339.9" width="4.0" height="4.0" fill="#e2707b"/>
<rect x="60.5" y="348.4" width="4.0" height="4.0" fill="#e2707b"/>
<rect x="60.5" y="350.5" width="4.0" height="4.0" fill="#e2707b"/>
<rect x="60.5" y="352.5" width="4.0" height="4.0" fill="#e2707b"/>
<rect x="60.5" y="354" width="4.0" height="4.0" fill="#e2707b"/>
<rect x="85" y="337" width="4.0" height="4.0" fill="#e2707b"/>
<rect x="176.1" y="302.9" width="4.0" height="4.0" fill="#e2707b"/>
<rect x="140.85" y="338.3" width="4.0" height="4.0" fill="#e2707b"/>
<rect x="131" y="346.8" width="4.0" height="4.0" fill="#e2707b"/>
<rect x="153.1" y="347.8" width="4.0" height="4.0" fill="#e2707b"/>
<rect x="166" y="346.7" width="4.0" height="4.0" fill="#e2707b"/>
<rect x="184" y="339.8" width="4.0" height="4.0" fill="#e2707b"/>
<rect x="181.6" y="342.2" width="4.0" height="4.0" fill="#e2707b"/>
<rect x="182" y="347.8" width="4.0" height="4.0" fill="#e2707b"/>
<rect x="192.1" y="348.4" width="4.0" height="4.0" fill="#e2707b"/>
<rect x="193.2" y="347.8" width="4.0" height="4.0" fill="#e2707b"/>
<rect x="277.2" y="363.5" width="4.0" height="4.0" fill="#e2707b"/>
<rect x="277.2" y="365.5" width="4.0" height="4.0" fill="#e2707b"/>
<rect x="348.2" y="365.7" width="4.0" height="4.0" fill="#e2707b"/>
<rect x="358.1" y="362.5" width="4.0" height="4.0" fill="#e2707b"/>
<rect x="370.9" y="363.7" width="4.0" height="4.0" fill="#e2707b"/>
<rect x="383.3" y="365.1" width="4.0" height="4.0" fill="#e2707b"/>
<rect x="393.8" y="349.3" width="4.0" height="4.0" fill="#e2707b"/>
<rect x="399.3" y="365.1" width="4.0" height="4.0" fill="#e2707b"/>
<rect x="402" y="364.3" width="4.0" height="4.0" fill="#e2707b"/>
<rect x="409.2" y="365.4" width="4.0" height="4.0" fill="#e2707b"/>
<rect x="410.6" y="365.7" width="4.0" height="4.0" fill="#e2707b"/>
<rect x="134.9" y="29.75" width="4.0" height="4.0" fill="#000"/>
<rect x="174.7" y="42.5" width="4.0" height="4.0" fill="#000"/>
<rect x="128.6" y="58.9" width="4.0" height="4.0" fill="#000"/>
<rect x="125.8" y="72.9" width="4.0" height="4.0" fill="#000"/>
<rect x="114.8" y="77.7" width="4.0" height="4.0" fill="#000"/>
<rect x="120.6" y="77.8" width="4.0" height="4.0" fill="#000"/>
<rect x="124.5" y="77.3" width="4.0" height="4.0" fill="#000"/>
<rect x="131" y="80.2" width="4.0" height="4.0" fill="#000"/>
<rect x="145.05" y="86.8" width="4.0" height="4.0" fill="#000"/>
<rect x="105" y="92.8" width="4.0" height="4.0" fill="#000"/>
<rect x="121.6" y="94.6" width="4.0" height="4.0" fill="#000"/>
<rect x="169.1" y="101.75" width="4.0" height="4.0" fill="#000"/>
<rect x="106.2" y="105.9" width="4.0" height="4.0" fill="#000"/>
<rect x="120.6" y="107.9" width="4.0" height="4.0" fill="#000"/>
<rect x="126.4" y="110" width="4.0" height="4.0" fill="#000"/>
<rect x="99.6" y="115.8" width="4.0" height="4.0" fill="#000"/>
<rect x="105.9" y="118.8" width="4.0" height="4.0" fill="#000"/>
<rect x="125.6" y="117.6" width="4.0" height="4.0" fill="#000"/>
<rect x="181.9" y="128.3" width="4.0" height="4.0" fill="#000"/>
<rect x="342.75" y="48.1" width="4.0" height="4.0" fill="#000"/>
<rect x="322.96" y="66.6" width="4.0" height="4.0" fill="#000"/>
<rect x="348.3" y="68.35" width="4.0" height="4.0" fill="#000"/>
<rect x="337.8" y="71.9" width="4.0" height="4.0" fill="#000"/>
<rect x="341.7" y="78.6" width="4.0" height="4.0" fill="#000"/>
<rect x="345.8" y="80.8" width="4.0" height="4.0" fill="#000"/>
<rect x="352" y="91.7" width="4.0" height="4.0" fill="#000"/>
<rect x="391.9" y="77.7" width="4.0" height="4.0" fill="#000"/>
<rect x="331.9" y="106.6" width="4.0" height="4.0" fill="#000"/>
<rect x="362.4" y="108.5" width="4.0" height="4.0" fill="#000"/>
<rect x="386.6" y="108.8" width="4.0" height="4.0" fill="#000"/>
<rect x="316.4" y="116.2" width="4.0" height="4.0" fill="#000"/>
<rect x="321.9" y="116.2" width="4.0" height="4.0" fill="#000"/>
<rect x="338.5" y="113.8" width="4.0" height="4.0" fill="#000"/>
<rect x="337.3" y="123.1" width="4.0" height="4.0" fill="#000"/>
<rect x="343.2" y="124.5" width="4.0" height="4.0" fill="#000"/>
<rect x="342.75" y="126" width="4.0" height="4.0" fill="#000"/>
<rect x="399" y="142.9" width="4.0" height="4.0" fill="#000"/>
<rect x="566" y="61.9" width="4.0" height="4.0" fill="#000"/>
<rect x="562.3" y="72.6" width="4.0" height="4.0" fill="#000"/>
<rect x="576.7" y="92.7" width="4.0" height="4.0" fill="#000"/>
<rect x="600.4" y="61.9" width="4.0" height="4.0" fill="#000"/>
<rect x="606" y="61.9" width="4.0" height="4.0" fill="#000"/>
<rect x="557.9" y="119.8" width="4.0" height="4.0" fill="#000"/>
<rect x="552.8" y="127.2" width="4.0" height="4.0" fill="#000"/>
<rect x="556.2" y="128.4" width="4.0" height="4.0" fill="#000"/>
<rect x="557.1" y="132.5" width="4.0" height="4.0" fill="#000"/>
<rect x="551.8" y="136.7" width="4.0" height="4.0" fill="#000"/>
<rect x="537.9" y="135.9" width="4.0" height="4.0" fill="#000"/>
<rect x="536.5" y="143.9" width="4.0" height="4.0" fill="#000"/>
<rect x="530.9" y="144.5" width="4.0" height="4.0" fill="#000"/>
<rect x="60.5" y="263.4" width="4.0" height="4.0" fill="#000"/>
<rect x="102.8" y="279.8" width="4.0" height="4.0" fill="#000"/>
<rect x="60.5" y="297.9" width="4.0" height="4.0" fill="#000"/>
<rect x="101.6" y="323" width="4.0" height="4.0" fill="#000"/>
<rect x="60.5" y="336.3" width="4.0" height="4.0" fill="#000"/>
<rect x="119.2" y="307.8" width="4.0" height="4.0" fill="#000"/>
<rect x="141.8" y="313.9" width="4.0" height="4.0" fill="#000"/>
<rect x="160.7" y="315.5" width="4.0" height="4.0" fill="#000"/>
<rect x="124.5" y="331.1" width="4.0" height="4.0" fill="#000"/>
<rect x="180" y="293.7" width="4.0" height="4.0" fill="#000"/>
<rect x="180" y="298.3" width="4.0" height="4.0" fill="#000"/>
<rect x="182" y="300.8" width="4.0" height="4.0" fill="#000"/>
<rect x="180.7" y="329" width="4.0" height="4.0" fill="#000"/>
<rect x="178.6" y="349.4" width="4.0" height="4.0" fill="#000"/>
<rect x="166" y="250.6" width="4.0" height="4.0" fill="#000"/>
<rect x="277.25" y="268.4" width="4.0" height="4.0" fill="#000"/>
<rect x="277.25" y="286.9" width="4.0" height="4.0" fill="#000"/>
<rect x="277.2" y="298.3" width="4.0" height="4.0" fill="#000"/>
<rect x="319.9" y="300.9" width="4.0" height="4.0" fill="#000"/>
<rect x="400" y="288.6" width="4.0" height="4.0" fill="#000"/>
<rect x="396.9" y="292.1" width="4.0" height="4.0" fill="#000"/>
<rect x="383.8" y="311.8" width="4.0" height="4.0" fill="#000"/>
<rect x="318.6" y="329.3" width="4.0" height="4.0" fill="#000"/>
<rect x="336.3" y="328.7" width="4.0" height="4.0" fill="#000"/>
<rect x="398.3" y="326.9" width="4.0" height="4.0" fill="#000"/>
<rect x="277.2" y="336.6" width="4.0" height="4.0" fill="#000"/>
<rect x="359.3" y="336.6" width="4.0" height="4.0" fill="#000"/>
<rect x="378.1" y="333.9" width="4.0" height="4.0" fill="#000"/>
<rect x="341.85" y="344.8" width="4.0" height="4.0" fill="#000"/>
<rect x="398.4" y="343.8" width="4.0" height="4.0" fill="#000"/>
<rect x="397.8" y="345.6" width="4.0" height="4.0" fill="#000"/>
<rect x="301.9" y="352.8" width="4.0" height="4.0" fill="#000"/>
<rect x="395.8" y="363.1" width="4.0" height="4.0" fill="#000"/>
<rect x="491.9" y="282.8" width="4.0" height="4.0" fill="#000"/>
<rect x="532.8" y="282.8" width="4.0" height="4.0" fill="#000"/>
<rect x="596.7" y="282.8" width="4.0" height="4.0" fill="#000"/>
<rect x="612.7" y="293.8" width="4.0" height="4.0" fill="#000"/>
<rect x="550.1" y="314.1" width="4.0" height="4.0" fill="#000"/>
<rect x="555.6" y="341.1" width="4.0" height="4.0" fill="#000"/>
<rect x="591.7" y="348.4" width="4.0" height="4.0" fill="#000"/>
<rect x="572.7" y="364.8" width="4.0" height="4.0" fill="#000"/>
<rect x="610.9" y="357.5" width="4.0" height="4.0" fill="#000"/>
<rect x="612" y="358" width="4.0" height="4.0" fill="#000"/>
<rect x="491.9" y="349.3" width="4.0" height="4.0" fill="#000"/>
<rect x="491.9" y="352.5" width="4.0" height="4.0" fill="#000"/>
<rect x="491.9" y="356.5" width="4.0" height="4.0" fill="#000"/>
<rect x="491.9" y="365.5" width="4.0" height="4.0" fill="#000"/>
</svg>
</body></html>
